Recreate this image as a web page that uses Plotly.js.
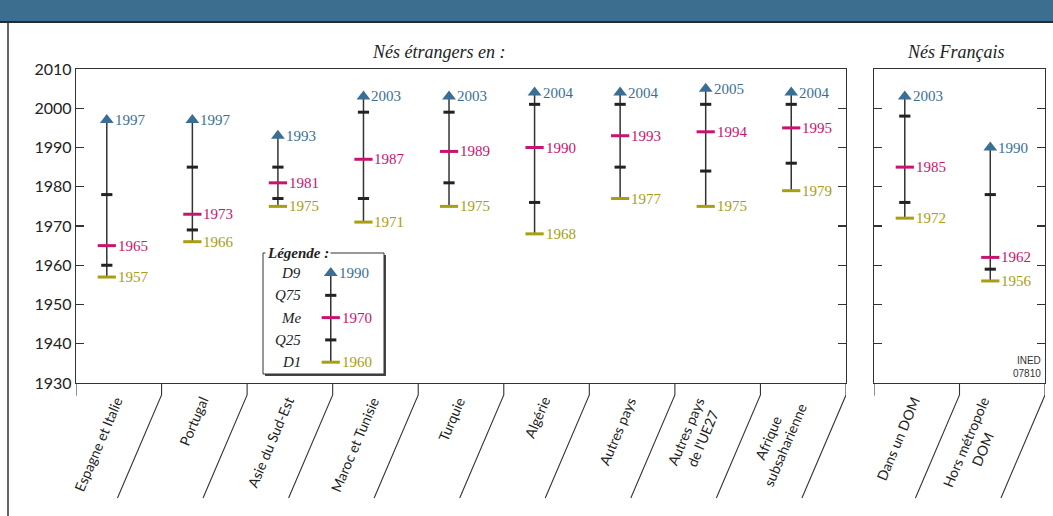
<!DOCTYPE html>
<html>
<head>
<meta charset="utf-8">
<script src="https://cdn.plot.ly/plotly-3.0.1.min.js"></script>
<style>html,body{margin:0;padding:0;background:#fff}#chart{width:1053px;height:516px}</style>
</head>
<body>
<div id="chart"></div>
<script>
// ---- Data ----
const catsEtr = ['Espagne et Italie', 'Portugal', 'Asie du Sud-Est', 'Maroc et Tunisie', 'Turquie', 'Algérie', 'Autres pays', "Autres pays<br>de l'UE27", 'Afrique<br>subsaharienne'];
const d9Etr  = [1997, 1997, 1993, 2003, 2003, 2004, 2004, 2005, 2004];
const q75Etr = [1978, 1985, 1985, 1999, 1999, 2001, 2001, 2001, 2001];
const medEtr = [1965, 1973, 1981, 1987, 1989, 1990, 1993, 1994, 1995];
const q25Etr = [1960, 1969, 1977, 1977, 1981, 1976, 1985, 1984, 1986];
const d1Etr  = [1957, 1966, 1975, 1971, 1975, 1968, 1977, 1975, 1979];

const catsFr = ['Dans un DOM', 'Hors métropole<br>DOM'];
const d9Fr  = [2003, 1990];
const q75Fr = [1998, 1978];
const medFr = [1985, 1962];
const q25Fr = [1976, 1959];
const d1Fr  = [1972, 1956];

const legendNames = ['D9', 'Q75', 'Me', 'Q25', 'D1'];
const legendVals  = [1990, null, 1970, null, 1960];

const panelTitles = ['Nés étrangers en :', 'Nés Français'];
const sourceText = 'INED<br>07810';

// ---- Style ----
const W = 1053, H = 516;
const px = p => p / W;
const py = p => 1 - p / H;
const BLUE = '#3a6f93', MAG = '#c8146e', OLIVE = '#a99e10', DARK = '#222', FRAME = '#333';
const SERIF = 'Liberation Serif, Times New Roman, serif';
const SANS = 'Lato, Noto Sans, sans-serif';
const BAR_OFF = 0.36;

const traces = [];
const annotations = [];
const shapes = [];

function addPanel(cats, d9, q75, med, q25, d1, xa, ya) {
  const xs = cats.map((c, i) => i + BAR_OFF);
  const lx = [], ly = [];
  xs.forEach((x, i) => { lx.push(x, x, null); ly.push(d1[i], d9[i], null); });
  traces.push({type: 'scatter', mode: 'lines', x: lx, y: ly, xaxis: xa, yaxis: ya,
    line: {color: FRAME, width: 1.5}, hoverinfo: 'skip'});
  traces.push({type: 'scatter', mode: 'markers', x: xs.concat(xs), y: q75.concat(q25), xaxis: xa, yaxis: ya,
    marker: {symbol: 'line-ew', size: 8, line: {width: 3, color: DARK}}});
  traces.push({type: 'scatter', mode: 'markers', x: xs, y: med, xaxis: xa, yaxis: ya,
    marker: {symbol: 'line-ew', size: 13, line: {width: 3, color: MAG}}});
  traces.push({type: 'scatter', mode: 'markers', x: xs, y: d1, xaxis: xa, yaxis: ya,
    marker: {symbol: 'line-ew', size: 13, line: {width: 3, color: OLIVE}}});
  traces.push({type: 'scatter', mode: 'markers', x: xs, y: d9, xaxis: xa, yaxis: ya,
    marker: {symbol: 'triangle-up', size: 12, color: BLUE}});
  const xr = xa === 'x' ? 'x' : 'x2', yr = ya === 'y' ? 'y' : 'y2';
  xs.forEach((x, i) => {
    annotations.push({xref: xr, yref: yr, x: x, y: d9[i], text: String(d9[i]), showarrow: false,
      xanchor: 'left', yanchor: 'middle', xshift: 6, font: {family: SERIF, size: 15, color: BLUE}});
    annotations.push({xref: xr, yref: yr, x: x, y: med[i], text: String(med[i]), showarrow: false,
      xanchor: 'left', yanchor: 'middle', xshift: 9, font: {family: SERIF, size: 15, color: MAG}});
    annotations.push({xref: xr, yref: yr, x: x, y: d1[i], text: String(d1[i]), showarrow: false,
      xanchor: 'left', yanchor: 'middle', xshift: 9, font: {family: SERIF, size: 15, color: OLIVE}});
    annotations.push({xref: xr, yref: 'paper', x: i + 0.61, y: py(392), text: cats[i], showarrow: false,
      textangle: -67, xanchor: 'right', yanchor: 'top', align: 'center',
      font: {family: SANS, size: 14, color: DARK}});
  });
  for (let k = 0; k <= cats.length; k++) {
    shapes.push({type: 'path', xref: xr, yref: 'paper', layer: 'above',
      path: `M${k},${py(383)} L${k},${py(395)} L${k - 0.515},${py(498)}`,
      line: {color: FRAME, width: 1.1}});
  }
}

addPanel(catsEtr, d9Etr, q75Etr, medEtr, q25Etr, d1Etr, 'x', 'y');
addPanel(catsFr, d9Fr, q75Fr, medFr, q25Fr, d1Fr, 'x2', 'y2');

// ---- Legend (schematic) ----
const LX = 0.56;
const levels = legendNames.map((n, i) => i);
traces.push({type: 'scatter', mode: 'lines', x: [LX, LX], y: [levels[0], levels[levels.length - 1]],
  xaxis: 'x3', yaxis: 'y3', line: {color: FRAME, width: 1.5}});
traces.push({type: 'scatter', mode: 'markers', x: [LX, LX], y: [levels[1], levels[3]], xaxis: 'x3', yaxis: 'y3',
  marker: {symbol: 'line-ew', size: 8, line: {width: 3, color: DARK}}});
traces.push({type: 'scatter', mode: 'markers', x: [LX], y: [levels[2]], xaxis: 'x3', yaxis: 'y3',
  marker: {symbol: 'line-ew', size: 13, line: {width: 3, color: MAG}}});
traces.push({type: 'scatter', mode: 'markers', x: [LX], y: [levels[4]], xaxis: 'x3', yaxis: 'y3',
  marker: {symbol: 'line-ew', size: 13, line: {width: 3, color: OLIVE}}});
traces.push({type: 'scatter', mode: 'markers', x: [LX], y: [levels[0]], xaxis: 'x3', yaxis: 'y3',
  marker: {symbol: 'triangle-up', size: 12, color: BLUE}});
const legColors = [BLUE, null, MAG, null, OLIVE];
legendNames.forEach((n, i) => {
  annotations.push({xref: 'x3', yref: 'y3', x: 0.33, y: levels[i], text: n, showarrow: false,
    xanchor: 'right', yanchor: 'middle', font: {family: SERIF, size: 15, color: DARK, style: 'italic'}});
  if (legendVals[i] !== null) {
    annotations.push({xref: 'x3', yref: 'y3', x: LX, y: levels[i], text: String(legendVals[i]), showarrow: false,
      xanchor: 'left', yanchor: 'middle', xshift: i === 0 ? 6 : 9, font: {family: SERIF, size: 15, color: legColors[i]}});
  }
});
annotations.push({xref: 'paper', yref: 'paper', x: px(265), y: py(253), text: 'Légende :', showarrow: false,
  xanchor: 'left', yanchor: 'middle', bgcolor: '#fff', borderpad: 1,
  font: {family: SERIF, size: 15, color: DARK, style: 'italic', weight: 'bold'}});
shapes.push({type: 'rect', xref: 'paper', yref: 'paper', layer: 'below',
  x0: px(265), x1: px(386), y0: py(376), y1: py(255), fillcolor: '#444', line: {width: 0}});
shapes.push({type: 'rect', xref: 'paper', yref: 'paper', layer: 'below',
  x0: px(263), x1: px(384), y0: py(374), y1: py(253), fillcolor: '#fff', line: {color: FRAME, width: 1}});

// ---- Panel titles, source ----
annotations.push({xref: 'paper', yref: 'paper', x: px(438), y: py(52), text: panelTitles[0], showarrow: false,
  xanchor: 'center', yanchor: 'middle', font: {family: SERIF, size: 18, color: DARK, style: 'italic'}});
annotations.push({xref: 'paper', yref: 'paper', x: px(956), y: py(52), text: panelTitles[1], showarrow: false,
  xanchor: 'center', yanchor: 'middle', font: {family: SERIF, size: 18, color: DARK, style: 'italic'}});
annotations.push({xref: 'paper', yref: 'paper', x: px(1043), y: py(381), text: sourceText, showarrow: false,
  xanchor: 'right', yanchor: 'bottom', align: 'right',
  font: {family: 'Liberation Sans Narrow, Liberation Sans, sans-serif', size: 10, color: '#333'}});

// ---- Banner & outer frame ----
shapes.push({type: 'rect', xref: 'paper', yref: 'paper', layer: 'below',
  x0: 0, x1: 1, y0: py(22), y1: 1, fillcolor: '#3b6e8f', line: {width: 0}});
shapes.push({type: 'line', xref: 'paper', yref: 'paper', layer: 'above',
  x0: 0, x1: 1, y0: py(22), y1: py(22), line: {color: '#2a2a2a', width: 2}});
shapes.push({type: 'line', xref: 'paper', yref: 'paper', layer: 'above',
  x0: px(8), x1: px(8), y0: py(22), y1: 0, line: {color: FRAME, width: 1.5}});

const yDomain = [py(383), py(69)];
const frameAxis = {showgrid: false, zeroline: false, showline: true, mirror: true, linecolor: FRAME, linewidth: 1.2, fixedrange: true};
const layout = {
  width: W, height: H, margin: {l: 0, r: 0, t: 0, b: 0},
  paper_bgcolor: '#fff', plot_bgcolor: 'rgba(0,0,0,0)', showlegend: false, hovermode: false,
  xaxis: Object.assign({}, frameAxis, {domain: [px(76), px(846)], range: [0, 9], showticklabels: false, ticks: '', anchor: 'y'}),
  yaxis: Object.assign({}, frameAxis, {domain: yDomain, range: [1930, 2010], dtick: 10, ticks: 'inside', ticklen: 8,
    tickwidth: 1.2, tickcolor: FRAME, mirror: 'ticks', anchor: 'x', tickfont: {family: SANS, size: 16, color: DARK}}),
  xaxis2: Object.assign({}, frameAxis, {domain: [px(874), px(1045)], range: [0, 2], showticklabels: false, ticks: '', anchor: 'y2'}),
  yaxis2: Object.assign({}, frameAxis, {domain: yDomain, range: [1930, 2010], dtick: 10, ticks: 'inside', ticklen: 8,
    tickwidth: 1.2, tickcolor: FRAME, mirror: 'ticks', anchor: 'x2', showticklabels: false}),
  xaxis3: {domain: [px(263), px(384)], range: [0, 1], visible: false, anchor: 'y3', fixedrange: true},
  yaxis3: {domain: [py(374), py(253)], range: [4.53, -0.9], visible: false, anchor: 'x3', fixedrange: true},
  annotations: annotations, shapes: shapes
};
Plotly.newPlot('chart', traces, layout, {staticPlot: true, displayModeBar: false});
</script>
</body>
</html>
